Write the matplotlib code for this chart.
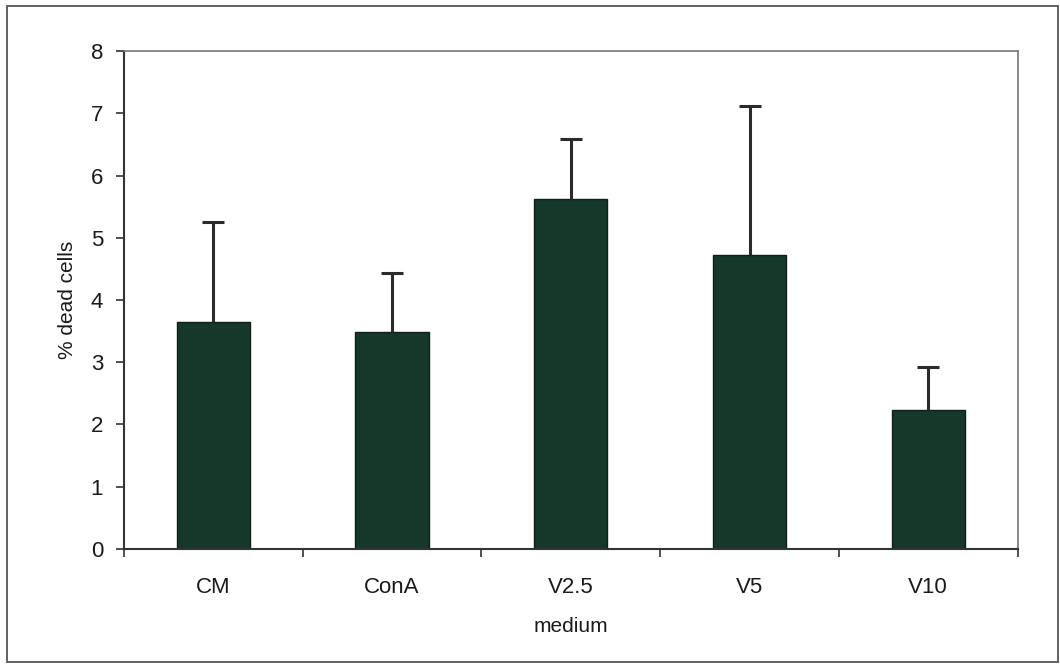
import matplotlib.pyplot as plt
from matplotlib.patches import Rectangle

categories = ["CM", "ConA", "V2.5", "V5", "V10"]
dead_cells = [3.64, 3.49, 5.62, 4.72, 2.23]
errors = [1.61, 0.95, 0.97, 2.40, 0.69]
y_ticks = [0, 1, 2, 3, 4, 5, 6, 7, 8]

plt.rcParams["font.family"] = ["Liberation Sans", "DejaVu Sans"]

fig = plt.figure(figsize=(10.6, 6.67), dpi=100)
ax = fig.add_axes([0.117, 0.177, 0.843, 0.7465])

x = list(range(len(categories)))
ax.bar(x, dead_cells, width=0.41, color="#15382a", edgecolor="#0d1f17", linewidth=1.0, zorder=2)
_, caps, _ = ax.errorbar(x, dead_cells, yerr=[[0] * len(errors), errors], fmt="none",
                         ecolor="#2b2b2b", elinewidth=2.2, capsize=8, capthick=2.2, zorder=3)
# only the upper half of the error bar is shown
caps[0].set_visible(False)

ax.set_xlim(-0.5, len(categories) - 0.5)
ax.set_ylim(0, 8)
ax.set_yticks(y_ticks)
ax.set_xticks(x)
ax.set_xticklabels(categories)
ax.set_xticks([i - 0.5 for i in range(len(categories) + 1)], minor=True)
ax.tick_params(axis="x", which="major", length=0, pad=20, labelsize=16, labelcolor="#1a1a1a")
ax.tick_params(axis="x", which="minor", length=6, width=1.2, direction="out", color="#333333")
ax.tick_params(axis="y", length=6, width=1.2, direction="out", pad=9, labelsize=16,
               labelcolor="#1a1a1a", color="#333333")

ax.set_ylabel("% dead cells", fontsize=15, color="#1a1a1a", labelpad=10)
ax.set_xlabel("medium", fontsize=15, color="#1a1a1a", labelpad=14)

for side in ["left", "bottom"]:
    ax.spines[side].set_color("#333333")
    ax.spines[side].set_linewidth(1.5)
for side in ["top", "right"]:
    ax.spines[side].set_color("#777777")
    ax.spines[side].set_linewidth(1.2)
    ax.spines[side].set_linestyle((0, (4, 1)))

# outer chart frame
fig.patches.append(Rectangle((0.007, 0.007), 0.991, 0.984, transform=fig.transFigure,
                             fill=False, edgecolor="#555555", linewidth=1.3))

fig.savefig("out.png", dpi=100)
